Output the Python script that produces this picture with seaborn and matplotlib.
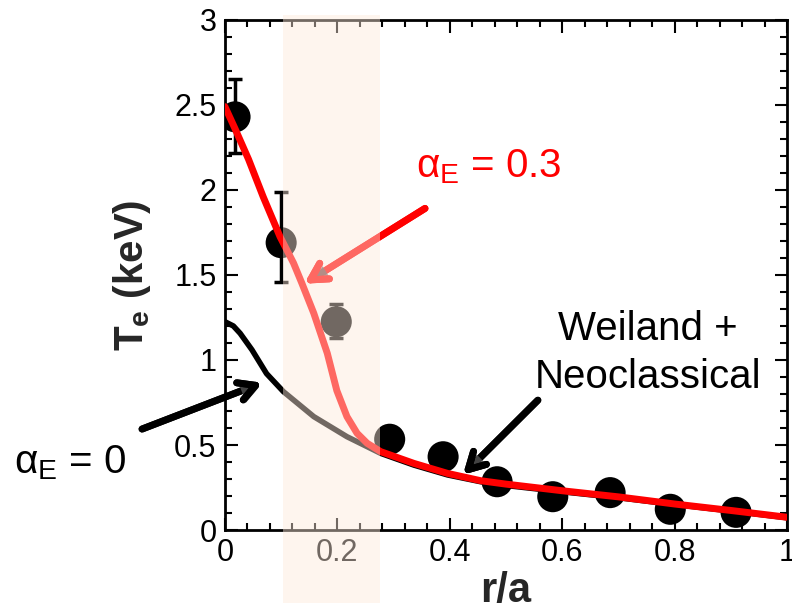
import numpy as np
import pandas as pd
import matplotlib
import matplotlib.pyplot as plt
import matplotlib.patheffects as pe
from matplotlib.ticker import MultipleLocator
import seaborn as sns

# measured Te points
exp_r = [0.018, 0.100, 0.198, 0.293, 0.388, 0.484, 0.583, 0.685, 0.792, 0.909]
exp_te = [2.43, 1.69, 1.225, 0.534, 0.431, 0.284, 0.196, 0.220, 0.122, 0.104]
# error bars on the first three points
err_r = [0.018, 0.100, 0.198]
err_te = [2.43, 1.69, 1.225]
err_lo = [2.22, 1.46, 1.13]
err_hi = [2.65, 1.99, 1.33]

# Weiland + neoclassical, alpha_E = 0
r_a0 = [0, 0.015, 0.027, 0.048, 0.074, 0.104, 0.158, 0.217, 0.277, 0.336, 0.396, 0.455,
        0.5, 0.6, 0.7, 0.8, 0.9, 1.0]
te_a0 = [1.225, 1.2, 1.157, 1.06, 0.92, 0.814, 0.667, 0.549, 0.451, 0.382, 0.324, 0.284,
         0.262, 0.225, 0.19, 0.15, 0.112, 0.072]

# alpha_E = 0.3
r_a3 = [0, 0.018, 0.042, 0.068, 0.098, 0.122, 0.137, 0.158, 0.182, 0.199, 0.217,
        0.235, 0.253, 0.277, 0.336, 0.396, 0.455, 0.5, 0.6, 0.7, 0.8, 0.9, 1.0]
te_a3 = [2.49, 2.36, 2.18, 1.96, 1.725, 1.57, 1.45, 1.275, 1.04, 0.82, 0.667,
         0.569, 0.51, 0.461, 0.392, 0.333, 0.29, 0.27, 0.231, 0.195, 0.153, 0.115, 0.075]

band = (0.104, 0.275)

sns.set_theme(style="ticks")
plt.rcParams['font.family'] = ['Liberation Sans', 'DejaVu Sans']
plt.rcParams['mathtext.fontset'] = 'custom'
plt.rcParams['mathtext.rm'] = 'Liberation Sans'
plt.rcParams['mathtext.bf'] = 'Liberation Sans:bold'

fig = plt.figure(figsize=(7.92, 6.03), dpi=100)
ax = fig.add_axes([0.284, 0.121, 0.710, 0.846])

df0 = pd.DataFrame({"r": r_a0, "te": te_a0})
df3 = pd.DataFrame({"r": r_a3, "te": te_a3})
dexp = pd.DataFrame({"r": exp_r, "te": exp_te})

# data points sit under the model curves
ax.errorbar(err_r, err_te,
            yerr=[np.array(err_te) - np.array(err_lo), np.array(err_hi) - np.array(err_te)],
            fmt="none", ecolor="black", elinewidth=2.5, capsize=5, capthick=2.5, zorder=1.5)
sns.scatterplot(data=dexp, x="r", y="te", color="black", s=500, edgecolor="none",
                ax=ax, zorder=2)
sns.lineplot(data=df0, x="r", y="te", color="black", lw=4, estimator=None, ax=ax, zorder=3)
sns.lineplot(data=df3, x="r", y="te", color="red", lw=5, estimator=None, ax=ax, zorder=4)

# shaded band, drawn over everything so marks show through faded
ax.axvspan(band[0], band[1], ymin=-0.143, ymax=1.01, color="#fde9da", alpha=0.45,
           lw=0, clip_on=False, zorder=10)

shadow = [pe.withSimplePatchShadow(offset=(2, -2), shadow_rgbFace="#555555", alpha=0.8),
          pe.Normal()]
head = "->,head_length=1.0,head_width=0.55"

ax.annotate("", xy=(0.137, 1.44), xytext=(0.36, 1.90),
            arrowprops=dict(arrowstyle=head, color="red", lw=5, path_effects=shadow), zorder=8)
ax.annotate("", xy=(0.071, 0.872), xytext=(-0.152, 0.588), annotation_clip=False,
            arrowprops=dict(arrowstyle=head, color="black", lw=5, path_effects=shadow), zorder=8)
ax.annotate("", xy=(0.42, 0.314), xytext=(0.56, 0.775),
            arrowprops=dict(arrowstyle=head, color="black", lw=5, path_effects=shadow), zorder=8)

ax.text(0.339, 2.076, r"α$_\mathregular{E}$ = 0.3", color="red", fontsize=29, ha="left",
        va="baseline")
ax.text(-0.375, 0.335, r"α$_\mathregular{E}$ = 0", color="black", fontsize=29, ha="left",
        va="baseline", clip_on=False)
ax.text(0.752, 1.115, "Weiland +", color="black", fontsize=29, ha="center", va="baseline")
ax.text(0.752, 0.835, "Neoclassical", color="black", fontsize=29, ha="center", va="baseline")

ax.set_xlim(0, 1)
ax.set_ylim(0, 3)
ax.xaxis.set_minor_locator(MultipleLocator(0.04))
ax.yaxis.set_minor_locator(MultipleLocator(0.1))
ax.set_xticks([0, 0.2, 0.4, 0.6, 0.8, 1.0])
ax.set_xticklabels(["0", "0.2", "0.4", "0.6", "0.8", "1"])
ax.set_yticks([0, 0.5, 1, 1.5, 2, 2.5, 3])
ax.set_yticklabels(["0", "0.5", "1", "1.5", "2", "2.5", "3"])
ax.tick_params(which="both", direction="in", top=True, right=True, colors="black",
               labelsize=22, width=1.5)
ax.tick_params(which="major", length=9, pad=6)
ax.tick_params(which="minor", length=5)
for s in ax.spines.values():
    s.set_linewidth(2)
    s.set_color("black")

ax.set_xlabel("r/a", fontsize=30, fontweight="bold", labelpad=2)
ax.set_ylabel(r"T$_\mathbf{e}$ (keV)", fontsize=29, fontweight="bold")
ax.yaxis.set_label_coords(-0.128, 0.5)

fig.savefig("out.png", dpi=100)
